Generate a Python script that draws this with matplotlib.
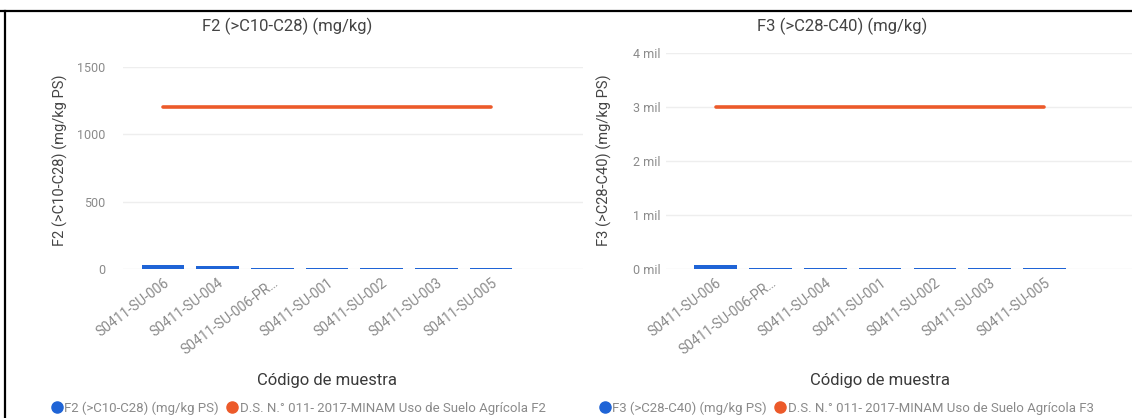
import numpy as np
import matplotlib
matplotlib.use("Agg")
import matplotlib.pyplot as plt
from matplotlib.lines import Line2D
from matplotlib.ticker import FuncFormatter

plt.rcParams['font.family'] = ['Roboto', 'DejaVu Sans']

# --- data ---
f2_samples = ["S0411-SU-006", "S0411-SU-004", "S0411-SU-006-PR…", "S0411-SU-001",
              "S0411-SU-002", "S0411-SU-003", "S0411-SU-005"]
f2_values = [28, 20, 9, 8, 8, 7, 7]
f2_limit = [1200] * 7

f3_samples = ["S0411-SU-006", "S0411-SU-006-PR…", "S0411-SU-004", "S0411-SU-001",
              "S0411-SU-002", "S0411-SU-003", "S0411-SU-005"]
f3_values = [70, 25, 22, 20, 20, 20, 20]
f3_limit = [3000] * 7

BLUE = "#1f64d6"
ORANGE = "#ec5a2a"
TXT = "#444444"
TICK = "#8a8a8a"
GRID = "#eeeeee"

W, H = 1132, 418
fig = plt.figure(figsize=(W / 100, H / 100), dpi=100)


def px_axes(x0, x1, y_top, y_bot):
    return fig.add_axes([x0 / W, 1 - y_bot / H, (x1 - x0) / W, (y_bot - y_top) / H])


def draw_panel(ax, cats, vals, limit, yticks, fmt, xlim, ypad):
    x = np.arange(len(cats))
    ax.bar(x, vals, width=0.78, color=BLUE, zorder=3)
    ax.plot(x, limit, color=ORANGE, lw=2.6, solid_capstyle='round', zorder=4)
    ax.set_xlim(*xlim)
    ax.set_ylim(0, yticks[-1])
    ax.set_yticks(yticks)
    ax.yaxis.set_major_formatter(FuncFormatter(fmt))
    ax.grid(axis='y', color=GRID, lw=1, zorder=0)
    ax.set_xticks(x)
    ax.set_xticklabels(cats, rotation=37, ha='right', va='top',
                       rotation_mode='anchor', fontsize=10, color=TICK)
    ax.tick_params(axis='x', length=0, pad=5)
    ax.tick_params(axis='y', length=0, pad=ypad, labelsize=9, labelcolor=TICK)
    for s in ax.spines.values():
        s.set_visible(False)
    return ax


# left panel (F2)
ax1 = px_axes(123, 583, 67, 269)
draw_panel(ax1, f2_samples, f2_values, f2_limit, [0, 500, 1000, 1500],
           lambda v, p: f"{v:.0f}", (-0.73, 7.68), 13)
fig.text(287 / W, 1 - 26 / H, "F2 (>C10-C28) (mg/kg)", ha='center', va='center',
         fontsize=12, color=TXT)
fig.text(60 / W, 1 - 160 / H, "F2 (>C10-C28) (mg/kg PS)", rotation=90,
         ha='center', va='center', fontsize=10.5, color=TXT)
fig.text(327 / W, 1 - 381 / H, "Código de muestra", ha='center', va='center',
         fontsize=12, color="#3a3a3a")

# right panel (F3)
ax2 = px_axes(666, 1132, 53, 269)
draw_panel(ax2, f3_samples, f3_values, f3_limit, [0, 1000, 2000, 3000, 4000],
           lambda v, p: f"{v / 1000:.0f} mil", (-0.91, 7.6), 4)
fig.text(842 / W, 1 - 26 / H, "F3 (>C28-C40) (mg/kg)", ha='center', va='center',
         fontsize=12, color=TXT)
fig.text(604 / W, 1 - 160 / H, "F3 (>C28-C40) (mg/kg PS)", rotation=90,
         ha='center', va='center', fontsize=10.5, color=TXT)
fig.text(880 / W, 1 - 381 / H, "Código de muestra", ha='center', va='center',
         fontsize=12, color="#3a3a3a")


# legends
def legend(x0, labels):
    handles = [Line2D([], [], marker='o', ls='', color=c, markersize=8) for c in (BLUE, ORANGE)]
    fig.legend(handles, labels, loc='center left', bbox_to_anchor=(x0 / W, 1 - 408 / H),
               ncol=2, frameon=False, fontsize=9.5, labelcolor=TICK,
               handletextpad=0.05, columnspacing=0.5, handlelength=1.0, borderpad=0)


legend(44, ["F2 (>C10-C28) (mg/kg PS)", "D.S. N.° 011- 2017-MINAM Uso de Suelo Agrícola F2"])
legend(592, ["F3 (>C28-C40) (mg/kg PS)", "D.S. N.° 011- 2017-MINAM Uso de Suelo Agrícola F3"])

# frame lines (top and left border)
fig.add_artist(Line2D([0, 1], [1 - 11 / H, 1 - 11 / H], color='black', lw=1.6))
fig.add_artist(Line2D([5 / W, 5 / W], [0, 1 - 11 / H], color='black', lw=1.6))

fig.savefig("out.png", dpi=100)
